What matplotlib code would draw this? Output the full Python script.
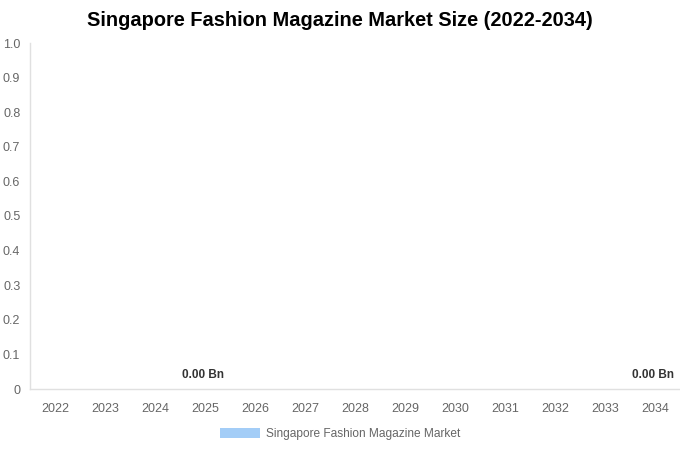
import matplotlib
matplotlib.use("Agg")
import matplotlib.pyplot as plt
from matplotlib.patches import Patch

years = ["2022", "2023", "2024", "2025", "2026", "2027", "2028",
         "2029", "2030", "2031", "2032", "2033", "2034"]
values = [0, 0, 0, 0, 0, 0, 0, 0, 0, 0, 0, 0, 0]
labeled_years = ["2025", "2034"]
yticks = [0, 0.1, 0.2, 0.3, 0.4, 0.5, 0.6, 0.7, 0.8, 0.9, 1.0]
ytick_labels = ["0", "0.1", "0.2", "0.3", "0.4", "0.5", "0.6", "0.7", "0.8", "0.9", "1.0"]
series_name = "Singapore Fashion Magazine Market"
title = "Singapore Fashion Magazine Market Size (2022-2034)"

plt.rcParams['font.family'] = ['Liberation Sans', 'DejaVu Sans']

fig = plt.figure(figsize=(6.8, 4.5), dpi=100)
ax = fig.add_axes([30/680, 1 - 389/450, 650/680, 346/450])

bar_color = "#a3cdf7"
x = list(range(len(years)))
ax.bar(x, values, width=0.6, color=bar_color)

for i, (yr, v) in enumerate(zip(years, values)):
    if yr in labeled_years:
        ax.annotate(f"{v:.2f} Bn", (i, v), xytext=(-1.5, 5.8), textcoords="offset points",
                    ha="center", va="bottom", fontsize=8.5, fontweight="bold", color="#333333")

ax.set_xlim(-0.5, len(years) - 0.5)
ax.set_ylim(0, 1.0)
ax.set_xticks(x)
ax.set_xticklabels(years)
ax.set_yticks(yticks)
ax.set_yticklabels(ytick_labels)
ax.tick_params(axis="both", length=0, labelsize=9, colors="#666666")
ax.tick_params(axis="x", pad=10)
ax.tick_params(axis="y", pad=7)

for s in ["top", "right"]:
    ax.spines[s].set_visible(False)
for s in ["left", "bottom"]:
    ax.spines[s].set_color("#e0e0e0")
    ax.spines[s].set_linewidth(1)

fig.text(340/680, 1 - 21/450, title, ha="center", va="center",
         fontsize=14.4, fontweight="bold", color="#000000")

handle = Patch(facecolor=bar_color, edgecolor="none")
fig.legend([handle], [series_name], loc="center", bbox_to_anchor=(340/680, 1 - 434/450),
           frameon=False, fontsize=8.6, labelcolor="#666666",
           handlelength=3.35, handleheight=0.92, handletextpad=0.5)

fig.savefig("out.png", dpi=100)
